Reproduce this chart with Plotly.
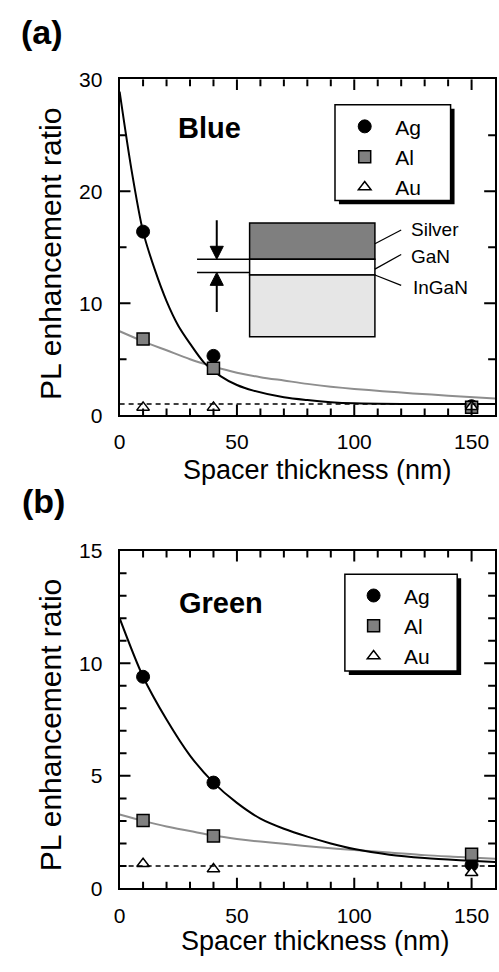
import plotly.graph_objects as go

# ---------------- data ----------------
spacer_nm = [10, 40, 150]

# (a) blue emission
blue_ag = [16.4, 5.3, 0.8]
blue_al = [6.8, 4.2, 0.72]
blue_au = [0.7, 0.7, 0.75]

# (b) green emission
green_ag = [9.4, 4.7, 1.05]
green_al = [3.02, 2.33, 1.52]
green_au = [1.1, 0.86, 0.7]

# fitted decay curves (sampled along the spacer axis)
fit_x_blue_ag = [0, 5, 10, 15, 20, 25, 30, 36, 43, 50, 57, 70, 80, 90, 100, 120, 140, 160]
fit_y_blue_ag = [28.9, 22.0, 16.4, 13.0, 10.2, 8.0, 6.4, 4.7, 3.5, 2.7, 2.2, 1.6, 1.35, 1.17, 1.07, 1.01, 1.0, 1.0]
fit_x_blue_al = [0, 10, 20, 30, 40, 50, 60, 70, 80, 90, 100, 112, 125, 140, 160]
fit_y_blue_al = [7.5, 6.6, 5.8, 5.0, 4.35, 3.8, 3.4, 3.1, 2.8, 2.55, 2.35, 2.15, 1.95, 1.75, 1.5]

fit_x_green_ag = [0, 10, 20, 30, 40, 50, 60, 70, 80, 90, 100, 115, 130, 145, 160]
fit_y_green_ag = [12.0, 9.4, 7.5, 5.9, 4.7, 3.8, 3.1, 2.65, 2.3, 2.0, 1.75, 1.5, 1.35, 1.25, 1.17]
fit_x_green_al = [0, 10, 20, 30, 40, 50, 60, 70, 85, 100, 115, 130, 145, 160]
fit_y_green_al = [3.28, 3.0, 2.75, 2.55, 2.35, 2.2, 2.08, 1.98, 1.83, 1.71, 1.6, 1.48, 1.4, 1.32]

reference_level = 1.0

x_range = [0, 160]
y_range_blue = [0, 30]
y_range_green = [0, 15]
x_ticks = [0, 50, 100, 150]
y_ticks_blue = [0, 10, 20, 30]
y_ticks_green = [0, 5, 10, 15]
x_minor_step = 10
y_minor_step_blue = 5
y_minor_step_green = 1

# ---------------- styling ----------------
FONT = "Liberation Sans, Arial, Helvetica, sans-serif"
W, H = 499, 972
GRAY_MARK = "#808080"
GRAY_LINE = "#8e8e8e"
MAJOR_LEN, MINOR_LEN, TICK_W = 11, 7, 2

# plot-area boxes in pixels: left, right, top, bottom
X_LEFT, X_RIGHT = 115, 495
TOP_A, BOTTOM_A = 69, 413
TOP_B, BOTTOM_B = 551.7, 897.7


def px_x(p):
    return p / W


def px_y(p):
    return 1 - p / H


fig = go.Figure()


def add_panel(xa, ya, legend, ag, al, au, fx_ag, fy_ag, fx_al, fy_al):
    fig.add_trace(go.Scatter(x=fx_al, y=fy_al, mode="lines", line=dict(color=GRAY_LINE, width=2, shape="spline", smoothing=0.8),
                             xaxis=xa, yaxis=ya, showlegend=False, hoverinfo="skip"))
    fig.add_trace(go.Scatter(x=fx_ag, y=fy_ag, mode="lines", line=dict(color="black", width=2, shape="spline", smoothing=0.8),
                             xaxis=xa, yaxis=ya, showlegend=False, hoverinfo="skip"))
    fig.add_trace(go.Scatter(x=spacer_nm, y=ag, mode="markers", name="Ag", legend=legend,
                             marker=dict(symbol="circle", size=13, color="black", line=dict(color="black", width=1)),
                             xaxis=xa, yaxis=ya))
    fig.add_trace(go.Scatter(x=spacer_nm, y=al, mode="markers", name="Al", legend=legend,
                             marker=dict(symbol="square", size=12, color=GRAY_MARK, line=dict(color="black", width=1.5)),
                             xaxis=xa, yaxis=ya))
    fig.add_trace(go.Scatter(x=spacer_nm, y=au, mode="markers", name="Au", legend=legend,
                             marker=dict(symbol="triangle-up", size=11, color="white", line=dict(color="black", width=1.5)),
                             xaxis=xa, yaxis=ya))


add_panel("x", "y", "legend", blue_ag, blue_al, blue_au,
          fit_x_blue_ag, fit_y_blue_ag, fit_x_blue_al, fit_y_blue_al)
add_panel("x2", "y2", "legend2", green_ag, green_al, green_au,
          fit_x_green_ag, fit_y_green_ag, fit_x_green_al, fit_y_green_al)

axis_common = dict(showline=True, linecolor="black", linewidth=2, mirror=True,
                   ticks="", showgrid=False, zeroline=False)

x_dom = [px_x(X_LEFT), px_x(X_RIGHT)]
legend_common = dict(xanchor="left", yanchor="top", bgcolor="rgba(0,0,0,0)", borderwidth=0,
                     font=dict(family=FONT, size=21, color="black"), itemwidth=51)
fig.update_layout(
    width=W, height=H,
    margin=dict(l=0, r=0, t=0, b=0),
    paper_bgcolor="white", plot_bgcolor="white",
    font=dict(family=FONT, size=21, color="black"),
    xaxis=dict(axis_common, domain=x_dom, range=x_range, tickvals=x_ticks, anchor="y", ticklabelstandoff=7),
    yaxis=dict(axis_common, domain=[px_y(BOTTOM_A), px_y(TOP_A)], range=y_range_blue, tickvals=y_ticks_blue,
               anchor="x", ticklabelstandoff=11),
    xaxis2=dict(axis_common, domain=x_dom, range=x_range, tickvals=x_ticks, anchor="y2", ticklabelstandoff=7),
    yaxis2=dict(axis_common, domain=[px_y(BOTTOM_B), px_y(TOP_B)], range=y_range_green, tickvals=y_ticks_green,
                anchor="x2", ticklabelstandoff=11),
    legend=dict(legend_common, x=px_x(332.2), y=px_y(96.5)),
    legend2=dict(legend_common, x=px_x(341.2), y=px_y(577)),
)


# inward tick marks on all four sides of a panel (major + minor), in data units
def steps(lo, hi, step):
    vals, v = [], lo
    while v <= hi + 1e-9:
        vals.append(round(v, 6))
        v += step
    return vals


def add_ticks(xa, ya, x_rng, y_rng, x_major, y_major, x_step, y_step, top_px, bottom_px):
    tick_line = dict(color="black", width=TICK_W)
    x_per_px = (x_rng[1] - x_rng[0]) / (X_RIGHT - X_LEFT)
    y_per_px = (y_rng[1] - y_rng[0]) / (bottom_px - top_px)
    for v in steps(x_rng[0], x_rng[1], x_step):
        if v <= x_rng[0] or v >= x_rng[1]:
            continue
        n = (MAJOR_LEN if v in x_major else MINOR_LEN) * y_per_px
        fig.add_shape(type="line", xref=xa, yref=ya, x0=v, x1=v, y0=y_rng[0], y1=y_rng[0] + n,
                      line=tick_line, layer="above")
        fig.add_shape(type="line", xref=xa, yref=ya, x0=v, x1=v, y0=y_rng[1], y1=y_rng[1] - n,
                      line=tick_line, layer="above")
    for v in steps(y_rng[0], y_rng[1], y_step):
        if v <= y_rng[0] or v >= y_rng[1]:
            continue
        n = (MAJOR_LEN if v in y_major else MINOR_LEN) * x_per_px
        fig.add_shape(type="line", xref=xa, yref=ya, y0=v, y1=v, x0=x_rng[0], x1=x_rng[0] + n,
                      line=tick_line, layer="above")
        fig.add_shape(type="line", xref=xa, yref=ya, y0=v, y1=v, x0=x_rng[1], x1=x_rng[1] - n,
                      line=tick_line, layer="above")


add_ticks("x", "y", x_range, y_range_blue, x_ticks, y_ticks_blue, x_minor_step, y_minor_step_blue, TOP_A, BOTTOM_A)
add_ticks("x2", "y2", x_range, y_range_green, x_ticks, y_ticks_green, x_minor_step, y_minor_step_green, TOP_B, BOTTOM_B)

# reference level (no enhancement)
for xa, ya in (("x", "y"), ("x2", "y2")):
    fig.add_shape(type="line", xref=xa, yref=ya, x0=x_range[0], x1=x_range[1], y0=reference_level, y1=reference_level,
                  line=dict(color="black", width=1.5, dash="5px,4px"), layer="above")

# legend frames with drop shadow
for (l, t, r, b) in ((333, 95, 450, 193), (343, 576, 456.7, 675)):
    fig.add_shape(type="rect", xref="paper", yref="paper", x0=px_x(l + 4), x1=px_x(r + 4), y0=px_y(b + 4), y1=px_y(t + 4),
                  fillcolor="black", line=dict(width=0), layer="above")
    fig.add_shape(type="rect", xref="paper", yref="paper", x0=px_x(l), x1=px_x(r), y0=px_y(b), y1=px_y(t),
                  fillcolor="white", line=dict(color="black", width=1.5), layer="above")

# layer-structure sketch inside panel (a)
layer_style = dict(xref="x", yref="y", layer="above", line=dict(color="black", width=1.5))
fig.add_shape(type="rect", x0=55.4, x1=108.8, y0=13.93, y1=17.18, fillcolor="#7f7f7f", **layer_style)
fig.add_shape(type="rect", x0=55.4, x1=108.8, y0=12.53, y1=13.93, fillcolor="white", **layer_style)
fig.add_shape(type="rect", x0=55.4, x1=108.8, y0=7.0, y1=12.53, fillcolor="#e6e6e6", **layer_style)
fig.add_shape(type="line", x0=33.0, x1=55.4, y0=13.93, y1=13.93, **layer_style)
fig.add_shape(type="line", x0=33.0, x1=55.4, y0=12.76, y1=12.76, **layer_style)
# thickness arrows
fig.add_shape(type="line", x0=41.4, x1=41.4, y0=17.42, y1=15.0, xref="x", yref="y", layer="above",
              line=dict(color="black", width=2))
fig.add_shape(type="path", path="M 38.6 15.09 L 44.2 15.09 L 41.4 13.93 Z", xref="x", yref="y", layer="above",
              fillcolor="black", line=dict(color="black", width=1))
fig.add_shape(type="line", x0=41.4, x1=41.4, y0=11.7, y1=9.22, xref="x", yref="y", layer="above",
              line=dict(color="black", width=2))
fig.add_shape(type="path", path="M 38.6 11.6 L 44.2 11.6 L 41.4 12.76 Z", xref="x", yref="y", layer="above",
              fillcolor="black", line=dict(color="black", width=1))
# leader lines to layer names
for (x0, y0, x1, y1) in ((108.8, 15.32, 120, 16.54), (108.8, 13.05, 120, 14.36), (108.8, 12.53, 120, 11.6)):
    fig.add_shape(type="line", x0=x0, y0=y0, x1=x1, y1=y1, xref="x", yref="y", layer="above",
                  line=dict(color="black", width=1.2))

for text, xv, yv in (("Silver", 123.2, 16.57), ("GaN", 123.2, 14.2), ("InGaN", 124.3, 11.45)):
    fig.add_annotation(text=text, x=xv, y=yv, xref="x", yref="y", xanchor="left", yanchor="middle",
                       showarrow=False, font=dict(family=FONT, size=19, color="black"))


# titles and labels
def label(text, x, y, size, bold=False, angle=0):
    fig.add_annotation(text=f"<b>{text}</b>" if bold else text, x=px_x(x), y=px_y(y), xref="paper", yref="paper",
                       xanchor="center", yanchor="middle", showarrow=False, textangle=angle,
                       font=dict(family=FONT, size=size, color="black"))


label("(a)", 36, 20, 34, bold=True)
label("(b)", 37.5, 500.5, 34, bold=True)
label("Blue", 206, 118.8, 29, bold=True)
label("Green", 217.5, 605, 29, bold=True)
label("Spacer thickness (nm)", 315, 469, 27)
label("Spacer thickness (nm)", 313, 952, 27)
label("PL enhancement ratio", 45, 247.5, 30, angle=-90)
label("PL enhancement ratio", 45, 730, 30, angle=-90)

fig.write_html("out.html")
